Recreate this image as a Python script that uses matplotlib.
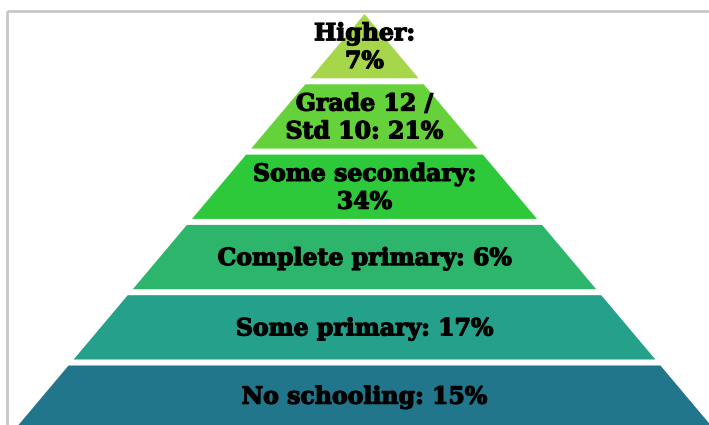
import matplotlib
matplotlib.use("Agg")
import matplotlib.pyplot as plt
import matplotlib.patheffects as pe
from matplotlib.patches import Polygon, Rectangle

# levels from top of pyramid to bottom
labels = ["Higher:\n7%", "Grade 12 /\nStd 10: 21%", "Some secondary:\n34%",
          "Complete primary: 6%", "Some primary: 17%", "No schooling: 15%"]
shares = [7, 21, 34, 6, 17, 15]
colors = ["#a6d64a", "#66d23b", "#2ec93b", "#2db56b", "#24a08b", "#21768b"]

fig = plt.figure(figsize=(7.09, 4.25), dpi=100)
ax = fig.add_axes([0, 0, 1, 1])
ax.set_xlim(0, 709)
ax.set_ylim(425, 0)
ax.axis("off")

# frame of the original slide
ax.add_patch(Rectangle((7, 11), 720, 430, fill=False, edgecolor="#c8c8c8", lw=2))

apex_x, apex_y = 364.5, 14
slope = 0.842          # half-width per pixel of height
step, gap = 70.3, 6

for i, (lab, c) in enumerate(zip(labels, colors)):
    top = apex_y + i * step
    bot = top + step - gap
    ht = (top - apex_y) * slope
    hb = (bot - apex_y) * slope
    ax.add_patch(Polygon([(apex_x - ht, top), (apex_x + ht, top),
                          (apex_x + hb, bot), (apex_x - hb, bot)],
                         closed=True, facecolor=c, edgecolor="none"))
    ty = (top + bot) / 2 + (1 if i < 5 else -1)
    ax.text(apex_x, ty, lab, ha="center", va="center", fontsize=17,
            fontweight="bold", family="DejaVu Serif", linespacing=1.2,
            color="black",
            path_effects=[pe.withStroke(linewidth=0.9, foreground="black")])

fig.savefig("out.png", dpi=100)
